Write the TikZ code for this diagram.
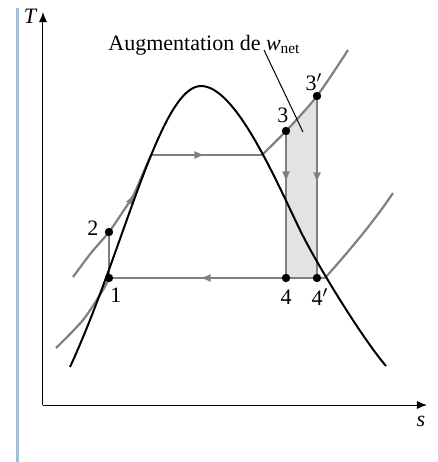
\documentclass[tikz,border=0pt]{standalone}
\usepackage{fontspec}
\setmainfont{Liberation Serif}
\usepackage{tikz}
\usetikzlibrary{arrows.meta, decorations.markings}
\definecolor{cyclegray}{RGB}{128,128,128}
\definecolor{shadegray}{RGB}{226,227,229}
\definecolor{barblue}{RGB}{165,190,214}
\tikzset{
  dome/.style={line width=1pt, color=black},
  isobar/.style={line width=1.1pt, color=cyclegray},
  axis/.style={line width=0.5pt, -{Latex[length=5pt, width=4pt]}},
  midarrow/.style={postaction={decorate}, decoration={markings,
    mark=at position #1 with {\arrow{Latex[length=5.5pt, width=4pt]}}}},
  lbl/.style={font=\fontsize{11}{13}\selectfont, inner sep=0pt}
}
\begin{document}
\begin{tikzpicture}[x=0.5pt, y=-0.5pt]
  \useasboundingbox (0,0) rectangle (438,462);

  % state points
  \coordinate (p1) at (109,278);
  \coordinate (p2) at (109,232);
  \coordinate (p3) at (286,131);
  \coordinate (p3p) at (317,96);
  \coordinate (p4) at (286,278);
  \coordinate (p4p) at (317,278);
  \coordinate (satliq) at (151,155);
  \coordinate (satvap) at (262,155);
  \coordinate (lowvap) at (325,278);

  % side bar and axes
  \draw[barblue, line width=1.5pt] (18,8) -- (18,462);
  \coordinate (orig) at (43,405);
  \coordinate (tend) at (43,12);
  \coordinate (send) at (427,405);
  \draw[axis] (orig) -- (tend);
  \draw[axis] (orig) -- (send);
  \node[lbl, font=\fontsize{11}{13}\selectfont\itshape] (tlabel) at (30,16) {T};
  \node[lbl, font=\fontsize{11}{13}\selectfont\itshape] (slabel) at (421,421) {s};

  % extra net work area
  \fill[shadegray] (p3) -- (p3p) -- (p4p) -- (p4) -- cycle;

  % high pressure isobar
  \draw[isobar, midarrow=0.86] plot[smooth] coordinates
    {(73,277) (91,253) (p2) (122,213) (133,196) (141,178)};
  \draw[isobar] (141,178) -- (satliq);
  \draw[isobar, midarrow=0.49] (satliq) -- (satvap);
  \draw[isobar] plot[smooth] coordinates {(satvap) (p3) (p3p) (348,50)};

  % low pressure isobar
  \draw[isobar] plot[smooth] coordinates {(56,348) (83,320) (103,290) (p1)};
  \draw[isobar, midarrow=0.58] (lowvap) -- (p1);
  \draw[isobar] (lowvap) .. controls (350,250) and (375,220) .. (393,193);

  % pump and turbines
  \draw[isobar] (p1) -- (p2);
  \draw[isobar, midarrow=0.35] (p3) -- (p4);
  \draw[isobar, midarrow=0.48] (p3p) -- (p4p);

  % saturation dome
  \coordinate (crit) at (201,86);
  \draw[dome] (70,367) .. controls (124,250) and (160,86) .. (crit)
    .. controls (235,86) and (274,176) .. (300,230)
    .. controls (316,263) and (362,338) .. (386,366);

  % dots
  \foreach \p in {p1,p2,p3,p3p,p4,p4p}
    \fill (\p) circle (2.1pt);

  % labels
  \node[lbl] (l1) at (116,295) {1};
  \node[lbl] (l2) at (93,228) {2};
  \node[lbl] (l3) at (283,115) {3};
  \node[lbl] (l3p) at (314,82) {3$'$};
  \node[lbl] (l4) at (286,297) {4};
  \node[lbl] (l4p) at (320,297) {4$'$};

  % note
  \node[lbl, anchor=base west] (note) at (108,50)
    {Augmentation de \textit{w}\textsubscript{net}};
  \coordinate (notetip) at (303,132);
  \draw[line width=0.5pt] (264,50) -- (notetip);
\end{tikzpicture}
\end{document}
